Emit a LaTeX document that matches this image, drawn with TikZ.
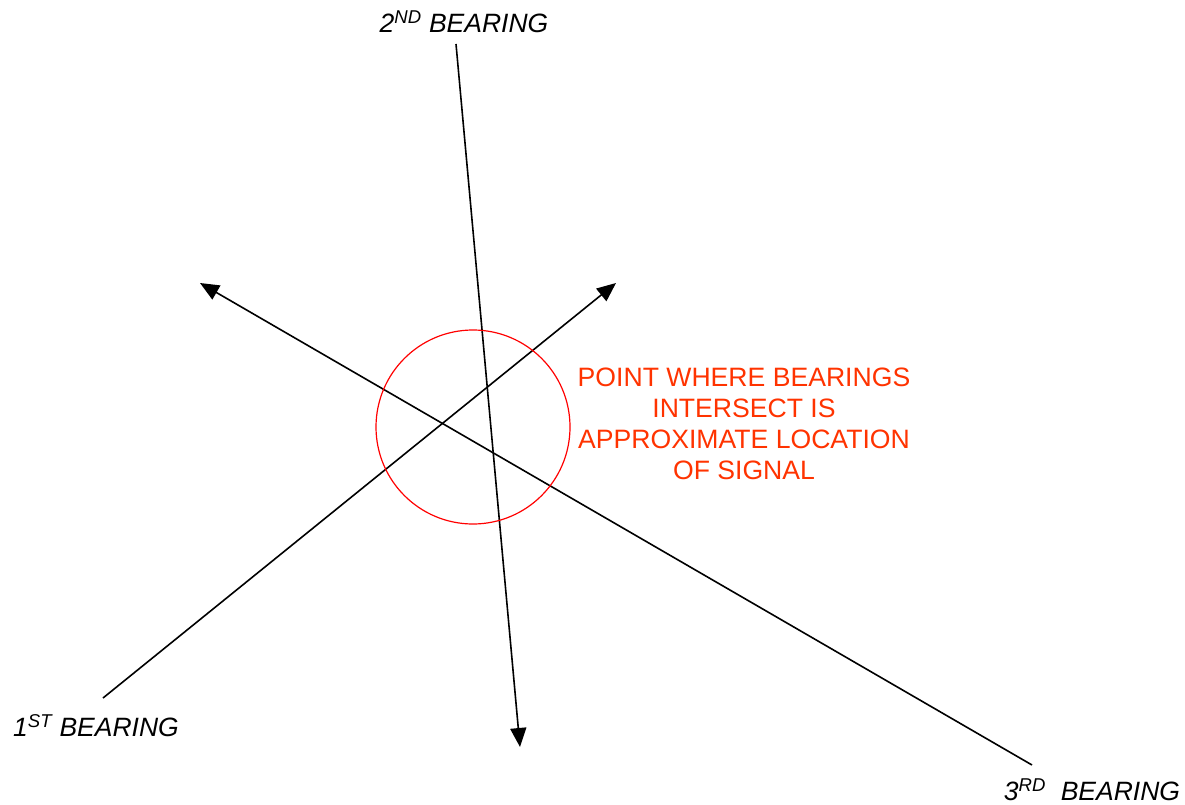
\documentclass[tikz,border=0pt]{standalone}
\usepackage{fontspec}
\setmainfont{Liberation Sans}
\usetikzlibrary{arrows.meta}
\definecolor{note}{RGB}{255,51,0}
\begin{document}
\begin{tikzpicture}[x=1pt,y=-1pt,
  bearing/.style={line width=1.6pt,-{Triangle[length=19pt,width=16pt]}},
  lbl/.style={font=\fontsize{26.5}{30}\selectfont\itshape,inner sep=0pt},
  notetext/.style={font=\fontsize{26.6}{31}\selectfont,text=note,align=center,inner sep=0pt}]
\useasboundingbox (0,0) rectangle (1185,805);
\coordinate (s1) at (103,698);
\coordinate (e1) at (616,283);
\coordinate (s2) at (456,44);
\coordinate (e2) at (520,747);
\coordinate (s3) at (1032,765);
\coordinate (e3) at (200,283);
\draw[bearing] (s1) -- (e1);
\draw[bearing] (s2) -- (e2);
\draw[bearing] (s3) -- (e3);
\node[draw=red,line width=1.2pt,circle,minimum size=194pt,inner sep=0pt] (c) at (473,427) {};
\node[notetext] (t) at (744,424) {POINT WHERE BEARINGS\\INTERSECT IS\\APPROXIMATE LOCATION\\OF SIGNAL};
\node[lbl] (l2) at (464,22) {2\textsuperscript{ND} BEARING};
\node[lbl] (l1) at (96,726) {1\textsuperscript{ST} BEARING};
\node[lbl] (l3) at (1092,790) {3\textsuperscript{RD}\ \ BEARING};
\end{tikzpicture}
\end{document}
